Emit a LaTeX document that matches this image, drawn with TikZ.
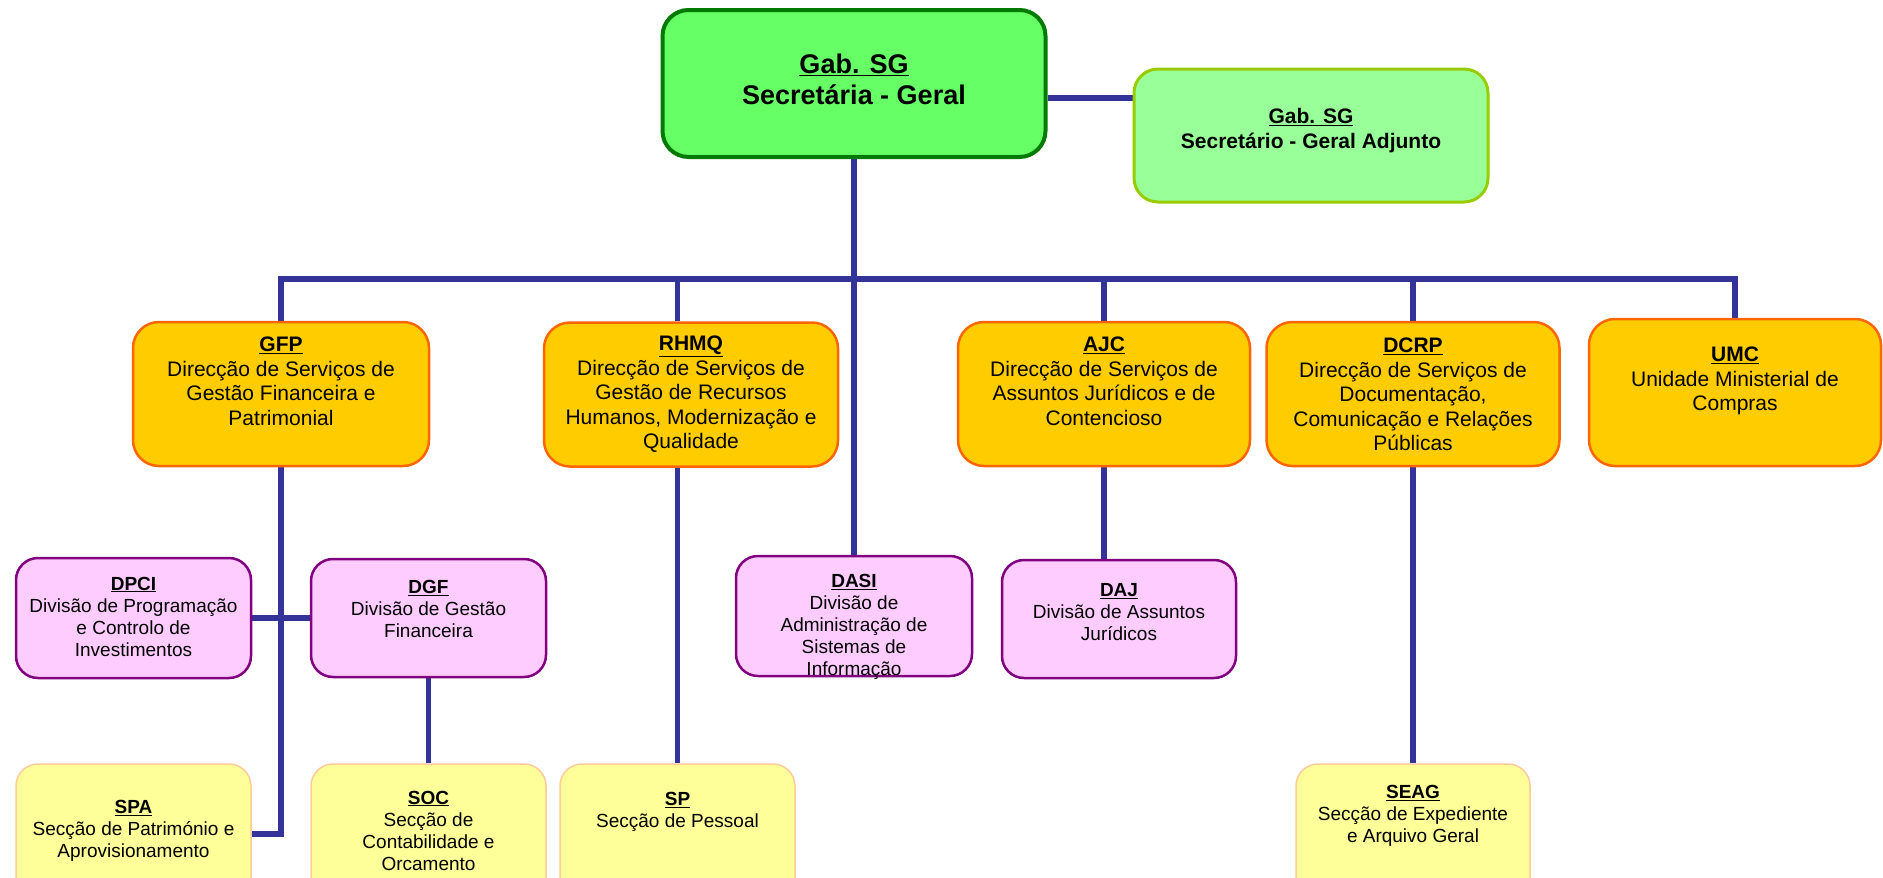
\documentclass[tikz,border=0pt]{standalone}
\usepackage{fontspec}
\setmainfont{Liberation Sans}
\pgfdeclarelayer{bg}
\pgfsetlayers{bg,main}
\definecolor{conn}{HTML}{333399}
\definecolor{mainfill}{HTML}{66FF66}
\definecolor{maindraw}{HTML}{007A00}
\definecolor{adjfill}{HTML}{99FF99}
\definecolor{adjdraw}{HTML}{99CC00}
\definecolor{dirfill}{HTML}{FFCC00}
\definecolor{dirdraw}{HTML}{FF6600}
\definecolor{divfill}{HTML}{FFCCFF}
\definecolor{divdraw}{HTML}{800080}
\definecolor{secfill}{HTML}{FFFF99}
\definecolor{secdraw}{HTML}{FFCC99}
\tikzset{
  box/.style={rectangle, inner sep=0pt},
  mainbox/.style={box, fill=mainfill, draw=maindraw, line width=4pt, rounded corners=26pt},
  adjbox/.style={box, fill=adjfill, draw=adjdraw, line width=3pt, rounded corners=24pt},
  dirbox/.style={box, fill=dirfill, draw=dirdraw, line width=2.5pt, rounded corners=26pt},
  divbox/.style={box, fill=divfill, draw=divdraw, line width=2.5pt, rounded corners=22pt},
  secbox/.style={box, fill=secfill, draw=secdraw, line width=1.5pt, rounded corners=22pt},
  conn/.style={draw=conn, line width=5.5pt},
  tmain/.style={align=center, inner sep=0pt, font=\fontsize{27}{31}\selectfont\bfseries},
  tadj/.style={align=center, inner sep=0pt, font=\fontsize{21}{25}\selectfont\bfseries},
  tdir/.style={align=center, inner sep=0pt, font=\fontsize{21}{24.5}\selectfont},
  tdiv/.style={align=center, inner sep=0pt, font=\fontsize{19}{22}\selectfont},
}
\newcommand{\ttl}[1]{\underline{\textbf{#1}}}
\begin{document}
\begin{tikzpicture}[x=1pt,y=-1pt]
\useasboundingbox (0,0) rectangle (1883,878);
\begin{pgfonlayer}{bg}
\fill[white] (0,0) rectangle (1883,878);
\end{pgfonlayer}
\clip (0,0) rectangle (1883,878);

% boxes
\node[mainbox, minimum width=383pt, minimum height=147pt] (sg) at (854,83.5) {};
\node[adjbox, minimum width=354pt, minimum height=133pt] (sga) at (1311,135.5) {};

\node[dirbox, minimum width=296pt, minimum height=144pt] (gfp) at (281,394) {};
\node[dirbox, minimum width=294pt, minimum height=144pt] (rhmq) at (691,394.5) {};
\node[dirbox, minimum width=292pt, minimum height=144pt] (ajc) at (1104,394) {};
\node[dirbox, minimum width=293pt, minimum height=144pt] (dcrp) at (1413,394) {};
\node[dirbox, minimum width=292pt, minimum height=147pt] (umc) at (1735,392.5) {};

\node[divbox, minimum width=235pt, minimum height=120pt] (dpci) at (133.5,618) {};
\node[divbox, minimum width=235pt, minimum height=118pt] (dgf) at (428.5,618) {};
\node[divbox, minimum width=236pt, minimum height=120pt] (dasi) at (854,616) {};
\node[divbox, minimum width=234pt, minimum height=118pt] (daj) at (1119,619) {};

\node[secbox, minimum width=235pt, minimum height=140pt] (spa) at (133.5,834) {};
\node[secbox, minimum width=235pt, minimum height=140pt] (soc) at (428.5,834) {};
\node[secbox, minimum width=235pt, minimum height=140pt] (sp) at (677.5,834) {};
\node[secbox, minimum width=234pt, minimum height=140pt] (seag) at (1413,834) {};

% connectors
\coordinate (bus) at (0,279);
\coordinate (lnk) at (0,98);
\begin{pgfonlayer}{bg}
\draw[conn] (sg.east |- lnk) -- (sga.west |- lnk);
\draw[conn] (sg.south) -- (dasi.north);
\draw[conn] (gfp.north) -- (gfp.north |- bus) -- (umc.north |- bus) -- (umc.north);
\draw[conn] (sp.north |- bus) -- (sp.north |- rhmq.north);
\draw[conn] (ajc.north |- bus) -- (ajc.north);
\draw[conn] (dcrp.north |- bus) -- (dcrp.north);
\draw[conn] (gfp.south) -- (gfp.south |- spa.east) -- (spa.east);
\draw[conn] (dpci.east) -- (dgf.west);
\draw[conn] (dgf.south) -- (soc.north);
\draw[conn] (sp.north |- rhmq.south) -- (sp.north);
\draw[conn] (ajc.south) -- (ajc.south |- daj.north);
\draw[conn] (dcrp.south) -- (seag.north);
\end{pgfonlayer}

% texts
\node[tmain] (sg-t) at (854,79.5) {\underline{Gab. SG}\\Secretária - Geral};
\node[tadj] (sga-t) at (1311,130.5) {\underline{Gab. SG}\\Secretário - Geral Adjunto};

\node[tdir] (gfp-t) at (281,381.5) {\ttl{GFP}\\Direcção de Serviços de\\Gestão Financeira e\\Patrimonial};
\node[tdir] (rhmq-t) at (691,394.5) {\ttl{RHMQ}\\Direcção de Serviços de\\Gestão de Recursos\\Humanos, Modernização e\\Qualidade};
\node[tdir] (ajc-t) at (1104,381.5) {\ttl{AJC}\\Direcção de Serviços de\\Assuntos Jurídicos e de\\Contencioso};
\node[tdir] (dcrp-t) at (1413,394.5) {\ttl{DCRP}\\Direcção de Serviços de\\Documentação,\\Comunicação e Relações\\Públicas};
\node[tdir] (umc-t) at (1735,381) {\ttl{UMC}\\Unidade Ministerial de\\Compras};

\node[tdiv] (dpci-t) at (133.5,616.5) {\ttl{DPCI}\\Divisão de Programação\\e Controlo de\\Investimentos};
\node[tdiv] (dgf-t) at (428.5,609) {\ttl{DGF}\\Divisão de Gestão\\Financeira};
\node[tdiv] (dasi-t) at (854,627) {\ttl{DASI}\\Divisão de\\Administração de\\Sistemas de\\Informação};
\node[tdiv] (daj-t) at (1119,612) {\ttl{DAJ}\\Divisão de Assuntos\\Jurídicos};

\node[tdiv] (spa-t) at (133.5,831) {\ttl{SPA}\\Secção de Património e\\Aprovisionamento};
\node[tdiv] (soc-t) at (428.5,830.5) {\ttl{SOC}\\Secção de\\Contabilidade e\\Orcamento};
\node[tdiv] (sp-t) at (677.5,811.5) {\ttl{SP}\\Secção de Pessoal};
\node[tdiv] (seag-t) at (1413,816) {\ttl{SEAG}\\Secção de Expediente\\e Arquivo Geral};
\end{tikzpicture}
\end{document}
